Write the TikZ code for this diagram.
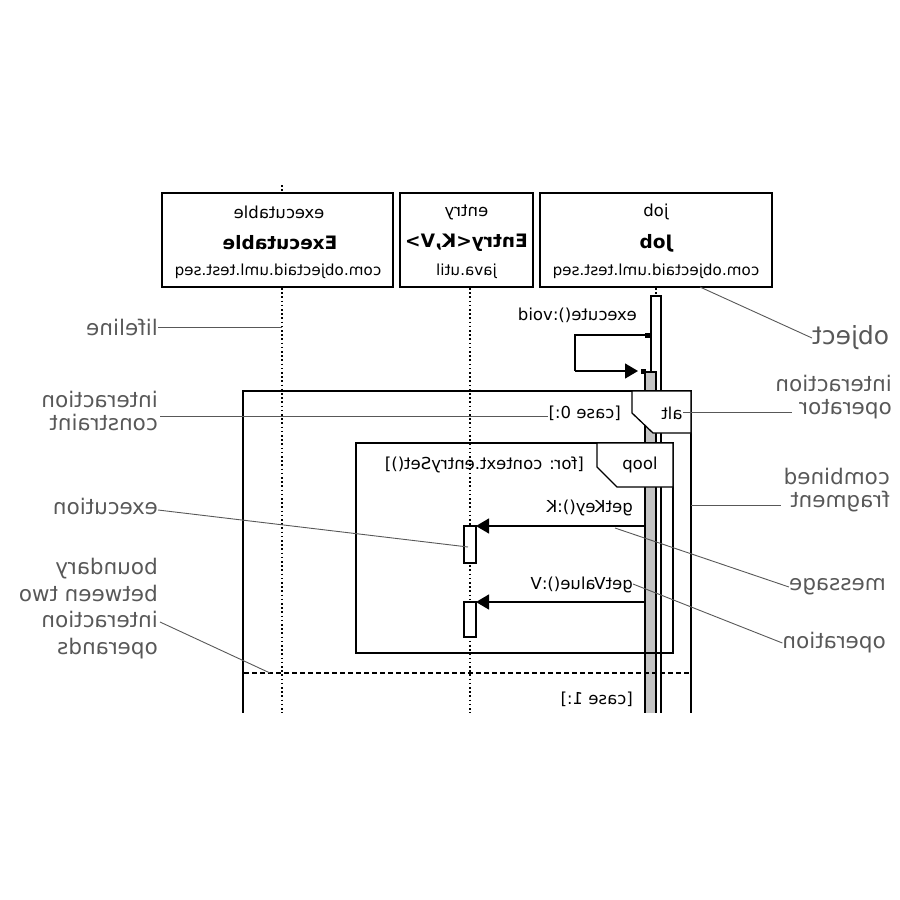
\documentclass[tikz,border=0pt]{standalone}
\usepackage{fontspec}
\setmainfont{DejaVu Sans}
\usetikzlibrary{arrows.meta}
\newcommand{\mr}[1]{\reflectbox{#1}}
\newcommand{\mrl}[1]{\reflectbox{\begin{tabular}{@{}l@{}}#1\end{tabular}}}
\definecolor{labelgray}{HTML}{585858}
\definecolor{bargray}{HTML}{C4C4C4}
\begin{document}
\begin{tikzpicture}[x=1pt,y=-1pt,
  objbox/.style={draw,line width=1.3pt,fill=white,inner sep=0pt,outer sep=0pt},
  txt/.style={font=\fontsize{16.5}{20}\selectfont,inner sep=0pt},
  stxt/.style={font=\fontsize{15.2}{18}\selectfont,inner sep=0pt},
  btxt/.style={font=\fontsize{18.5}{21}\bfseries\selectfont,inner sep=0pt},
  lbl/.style={font=\fontsize{21.5}{23}\selectfont,text=labelgray,inner sep=0pt},
  lead/.style={draw=labelgray,line width=0.9pt},
  life/.style={line width=1.6pt,dash pattern=on 1.6pt off 2.6pt},
  frameline/.style={line width=1.3pt},
  msg/.style={line width=1.3pt,-{Triangle[length=13pt,width=15pt]}},
]
\useasboundingbox (0,0) rectangle (900,900);

% object boxes
\node[objbox,minimum width=231pt,minimum height=94pt] (exe) at (277.5,240) {};
\node[objbox,minimum width=133pt,minimum height=94pt] (ent) at (466.5,240) {};
\node[objbox,minimum width=232pt,minimum height=94pt] (job) at (656,240) {};

\node[txt] (exe1) at (279,212) {\mr{executable}};
\node[btxt] (exe2) at (280,243) {\mr{Executable}};
\node[stxt] (exe3) at (278,271) {\mr{com.objectaid.uml.test.seq}};
\node[txt] (ent1) at (466.5,212) {\mr{entry}};
\node[btxt] (ent2) at (466.5,243) {\mr{Entry<K,V>}};
\node[stxt] (ent3) at (466.5,271) {\mr{java.util}};
\node[txt] (job1) at (656,212) {\mr{job}};
\node[btxt] (job2) at (656,243) {\mr{Job}};
\node[stxt] (job3) at (656,271) {\mr{com.objectaid.uml.test.seq}};

\coordinate (exetop) at (282,185);
\coordinate (exebot) at (282,720);
\coordinate (entbot) at (470,720);

\begin{scope}
\clip (0,0) rectangle (900,712.5);
% lifelines
\draw[life] (exetop) -- (282,193);
\draw[life] (282,288) -- (exebot);
\draw[life] (470,288) -- (entbot);
\draw[life] (656,288) -- (656,296);

% activation bars
\draw[line width=1.3pt,fill=white] (651,296) rectangle (661,730);
\draw[line width=1.3pt,fill=bargray] (645,372) rectangle (656,730);

% executions
\node[objbox,minimum width=12pt,minimum height=37pt] (ex1) at (470,544.5) {};
\node[objbox,minimum width=12pt,minimum height=35pt] (ex2) at (470,619.5) {};

% alt fragment
\draw[frameline] (243,730) -- (243,391) -- (691,391) -- (691,730);
\draw[frameline,dash pattern=on 5pt off 3pt] (244,673) -- (691,673);
\draw[frameline,fill=white] (632,391) -- (632,413) -- (653,433) -- (691,433) -- (691,391) -- cycle;
\node[txt] (alt) at (672,413) {\mr{alt}};
\node[txt,anchor=east] (case0) at (621,413) {\mr{[case 0:]}};
\node[txt,anchor=east] (case1) at (633,699) {\mr{[case 1:]}};

% loop fragment
\draw[frameline] (356,443) rectangle (673,653);
\draw[frameline,fill=white] (597,443) -- (597,467) -- (617,487) -- (673,487) -- (673,443) -- cycle;
\node[txt] (loop) at (640,465) {\mr{loop}};
\node[txt,anchor=east] (forc) at (584,465) {\mr{[for: context.entrySet()]}};

% self message
\coordinate (selfA) at (648,335);
\coordinate (selfB) at (575,371);
\coordinate (selfC) at (638,371);
\draw[line width=1.3pt] (selfA) -| (selfB);
\draw[msg] (selfB) -- (selfC);
\fill (645,332.5) rectangle (650,337.5);
\fill (640.5,368.5) rectangle (645.5,373.5);
\node[txt,anchor=east] (exec) at (637,315) {\mr{execute():void}};

% messages
\coordinate (m1) at (645,526);
\coordinate (m2) at (645,602);
\draw[msg] (m1) -- (ex1.north east |- m1);
\draw[msg] (m2) -- (ex2.north east);
\node[txt,anchor=east] (gk) at (633,508) {\mr{getKey():K}};
\node[txt,anchor=east] (gv) at (633,585) {\mr{getValue():V}};
\end{scope}

% annotation labels
\node[lbl,anchor=east] (Llife) at (158,327) {\mr{lifeline}};
\node[lbl,anchor=east] (Lcons) at (158,414) {\mrl{interaction\\constraint}};
\node[lbl,anchor=east] (Lexec) at (158,510) {\mrl{execution}};
\node[lbl,anchor=east,font=\fontsize{21.5}{26.5}\selectfont] (Lbound) at (158,609) {\mrl{boundary\\between two\\interaction\\operands}};
\node[lbl,anchor=west,font=\fontsize{25}{28}\selectfont] (Lobj) at (812,338) {\mr{object}};
\node[lbl,anchor=east] (Lop) at (892,398) {\mrl{interaction\\operator}};
\node[lbl,anchor=east] (Lcomb) at (890,491) {\mrl{combined\\fragment}};
\node[lbl,anchor=east] (Lmsg) at (886,587) {\mr{message}};
\node[lbl,anchor=east] (Loper) at (886,643) {\mr{operation}};

% leaders
\draw[lead] (Llife.east) -- (282,327);
\draw[lead] (160,416) -- (case0.west |- 0,416);
\draw[lead] (Lexec.east) -- (468,547);
\draw[lead] (160,622) -- (270,673);
\draw[lead] (700,287) -- (Lobj.west);
\draw[lead] (alt.east |- 0,412) -- (792,412);
\draw[lead] (691,505) -- (781,505);
\draw[lead] (615,528) -- (Lmsg.west);
\draw[lead] (gv.east |- 0,584) -- (Loper.west);
\end{tikzpicture}
\end{document}
